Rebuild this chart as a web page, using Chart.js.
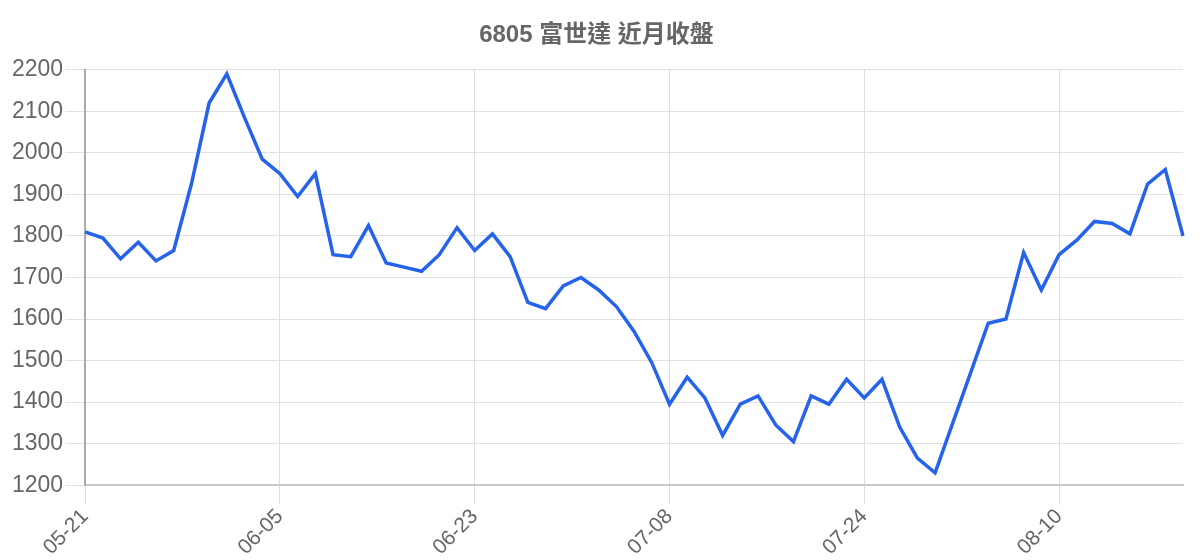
<!DOCTYPE html>
<html>
<head>
<meta charset="utf-8">
<script src="https://cdn.jsdelivr.net/npm/chart.js@4"></script>
<style>
  html, body { margin: 0; padding: 0; background: #ffffff; }
  #wrap { width: 1200px; height: 560px; }
</style>
</head>
<body>
<div id="wrap"><canvas id="c" width="1200" height="560"></canvas></div>
<script>
const chartTitle = '6805 富世達 近月收盤';

const dates = [
  '05-21','05-22','05-23','05-24','05-27','05-28','05-29','05-30','05-31','06-03','06-04','06-05',
  '06-06','06-09','06-10','06-11','06-12','06-13','06-16','06-17','06-18','06-19','06-23',
  '06-24','06-25','06-26','06-27','06-30','07-01','07-02','07-03','07-04','07-07','07-08',
  '07-09','07-10','07-11','07-14','07-15','07-16','07-17','07-18','07-22','07-23','07-24',
  '07-25','07-28','07-29','07-30','07-31','08-01','08-04','08-05','08-06','08-07','08-10',
  '08-11','08-12','08-13','08-14','08-15','08-18','08-19'
];

const closePrices = [
  1810, 1795, 1745, 1785, 1740, 1765, 1925, 2120, 2190, 2085, 1985, 1950,
  1895, 1950, 1755, 1750, 1825, 1735, 1725, 1715, 1755, 1820, 1765,
  1805, 1750, 1640, 1625, 1680, 1700, 1670, 1630, 1570, 1495, 1395,
  1460, 1410, 1320, 1395, 1415, 1345, 1305, 1415, 1395, 1455, 1410,
  1455, 1340, 1265, 1230, 1350, 1470, 1590, 1600, 1760, 1670, 1755,
  1790, 1835, 1830, 1805, 1925, 1960, 1800
];

const yMin = 1200;
const yMax = 2200;
const yStep = 100;

const fontFamily = '"Liberation Sans", Arial, sans-serif';

new Chart(document.getElementById('c'), {
  type: 'line',
  data: {
    labels: dates,
    datasets: [{
      label: chartTitle,
      data: closePrices,
      borderColor: '#2563eb',
      backgroundColor: '#2563eb',
      borderWidth: 3.5,
      pointRadius: 0,
      pointHoverRadius: 0,
      tension: 0,
      fill: false
    }]
  },
  options: {
    responsive: false,
    animation: false,
    devicePixelRatio: 1,
    layout: { padding: { left: 10, right: 17, top: 10, bottom: 0 } },
    plugins: {
      legend: { display: false },
      tooltip: { enabled: false },
      title: {
        display: true,
        text: chartTitle,
        color: '#666666',
        font: { family: '"Liberation Sans", "Noto Sans CJK TC", sans-serif', size: 24, weight: 'bold' },
        padding: { top: 11, bottom: 20 }
      }
    },
    scales: {
      x: {
        ticks: {
          color: '#666666',
          font: { family: fontFamily, size: 21 },
          autoSkip: true,
          maxTicksLimit: 6,
          maxRotation: 45,
          minRotation: 45,
          padding: 0
        },
        grid: { color: '#dddddd', lineWidth: 1, tickLength: 19, drawTicks: true },
        border: { color: '#c8c8c8', width: 2 }
      },
      y: {
        min: yMin,
        max: yMax,
        ticks: {
          stepSize: yStep,
          color: '#666666',
          font: { family: fontFamily, size: 23 },
          padding: 2,
          callback: (v) => String(v)
        },
        grid: { color: '#e0e0e0', lineWidth: 1, tickLength: 20 },
        border: { color: '#aaaaaa', width: 2 }
      }
    }
  }
});
</script>
</body>
</html>
